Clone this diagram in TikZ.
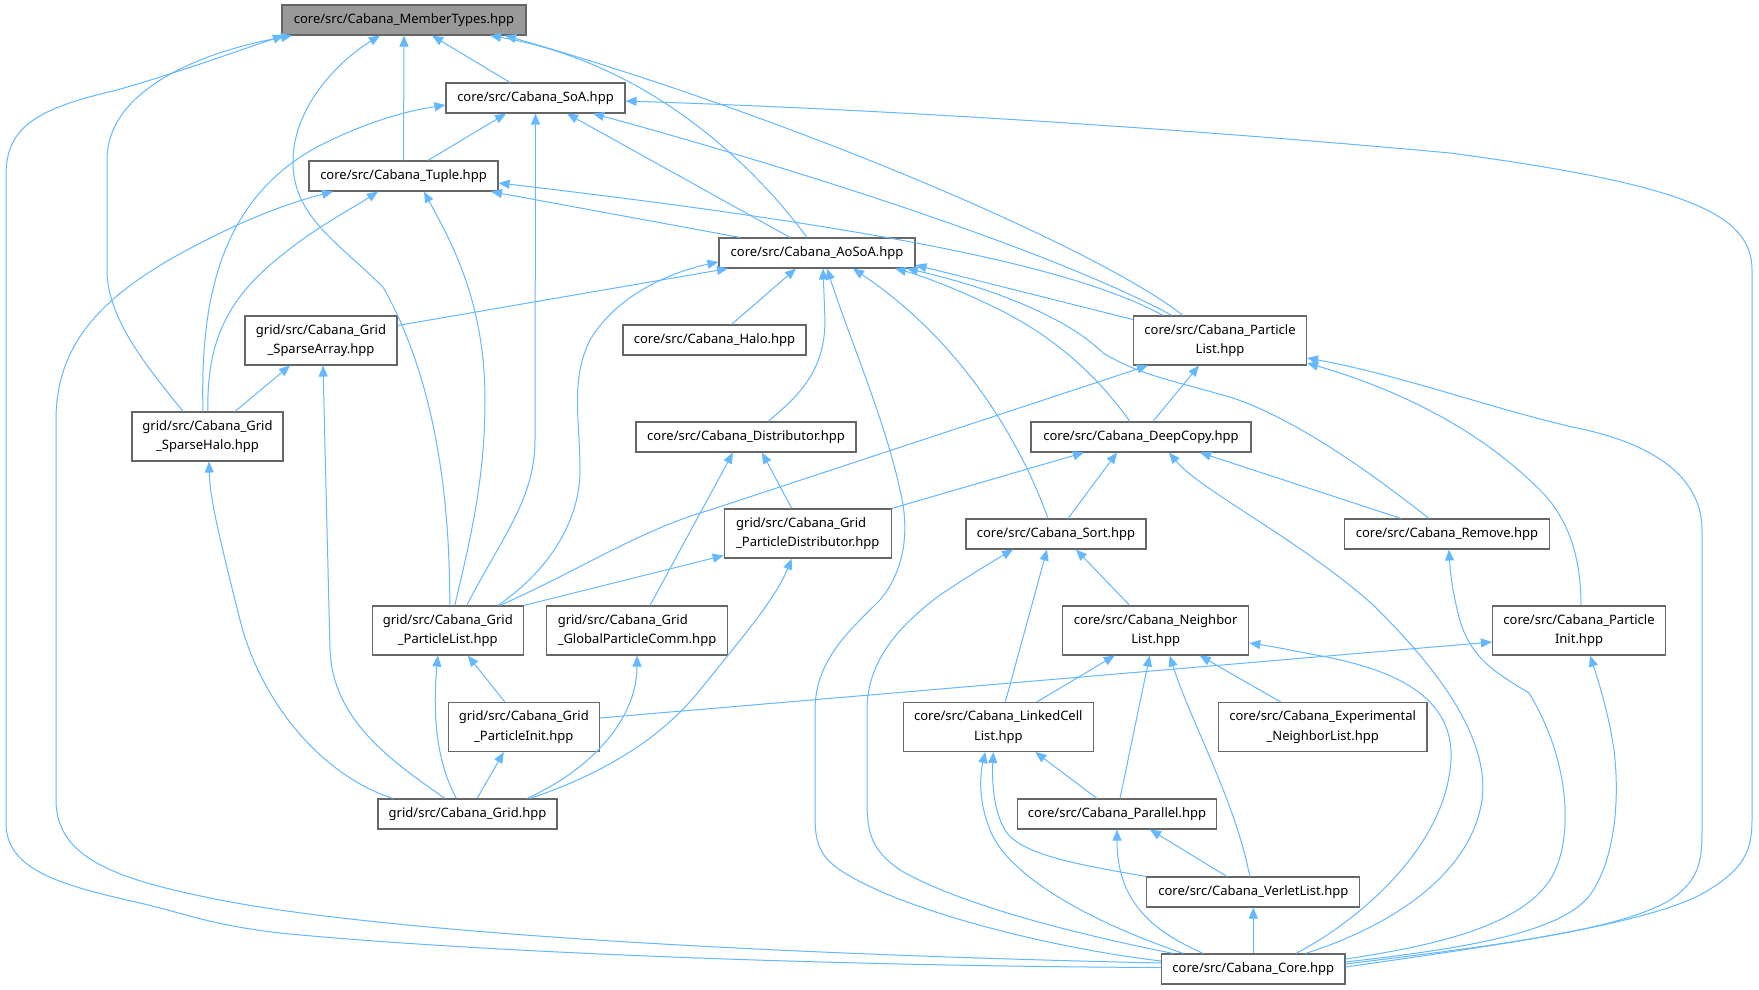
\documentclass[tikz,border=0pt]{standalone}
\usepackage{fontspec}
\setmainfont{Noto Sans}
\usetikzlibrary{arrows.meta}
\definecolor{edgeblue}{HTML}{63B8FF}
\definecolor{boxgray}{HTML}{666666}
\definecolor{rootgray}{HTML}{999999}
\tikzset{
	file/.style={draw=boxgray, line width=1.1pt, fill=white, inner sep=0pt, minimum height=30pt, align=center, font=\fontsize{13}{19.3}\selectfont},
	tall/.style={file, minimum height=49pt},
	rootfile/.style={file, fill=rootgray},
	dep/.style={draw=edgeblue, line width=1pt, -{Triangle[length=11pt,width=9pt]}}
}
\begin{document}
\begin{tikzpicture}[x=1pt,y=1pt]
	\fill[white] (0,0) rectangle (1759,-990);
	\useasboundingbox (0,0) rectangle (1759,-990);

	\node[rootfile, minimum width=244pt] (mt)     at (404,-20)      {core/src/Cabana\_MemberTypes.hpp};
	\node[file, minimum width=179pt]     (soa)    at (535.5,-98)    {core/src/Cabana\_SoA.hpp};
	\node[file, minimum width=189pt]     (tuple)  at (403.5,-176)   {core/src/Cabana\_Tuple.hpp};
	\node[file, minimum width=196pt]     (aosoa)  at (817,-253)     {core/src/Cabana\_AoSoA.hpp};
	\node[tall, minimum width=152pt]     (sparr)  at (321,-340.5)   {grid/src/Cabana\_Grid\\\_SparseArray.hpp};
	\node[file, minimum width=183pt]     (halo)   at (714.5,-340)   {core/src/Cabana\_Halo.hpp};
	\node[tall, minimum width=173pt]     (plist)  at (1220,-340.5)  {core/src/Cabana\_Particle\\List.hpp};
	\node[tall, minimum width=151pt]     (sphalo) at (207.5,-436.5) {grid/src/Cabana\_Grid\\\_SparseHalo.hpp};
	\node[file, minimum width=220pt]     (distr)  at (746,-437)     {core/src/Cabana\_Distributor.hpp};
	\node[file, minimum width=220pt]     (dcopy)  at (1141,-437)    {core/src/Cabana\_DeepCopy.hpp};
	\node[tall, minimum width=167pt, align=left] (gpdist) at (807.7,-533.5) {grid/src/Cabana\_Grid\\\_ParticleDistributor.hpp};
	\node[file, minimum width=180pt]     (sort)   at (1056,-534)    {core/src/Cabana\_Sort.hpp};
	\node[file, minimum width=205.5pt]   (remove) at (1447,-534)    {core/src/Cabana\_Remove.hpp};
	\node[tall, minimum width=151pt]     (gplist) at (447.8,-630.5) {grid/src/Cabana\_Grid\\\_ParticleList.hpp};
	\node[tall, minimum width=180.6pt, align=left] (gpcomm) at (637,-630.5) {grid/src/Cabana\_Grid\\\_GlobalParticleComm.hpp};
	\node[tall, minimum width=186pt]     (nlist)  at (1155.7,-630.5) {core/src/Cabana\_Neighbor\\List.hpp};
	\node[tall, minimum width=173pt]     (pinit)  at (1579,-630.5)  {core/src/Cabana\_Particle\\Init.hpp};
	\node[tall, minimum width=151pt]     (gpinit) at (523.8,-727)   {grid/src/Cabana\_Grid\\\_ParticleInit.hpp};
	\node[tall, minimum width=190pt]     (lcell)  at (998.3,-727)   {core/src/Cabana\_LinkedCell\\List.hpp};
	\node[tall, minimum width=208.6pt]   (exper)  at (1322.7,-727)  {core/src/Cabana\_Experimental\\\_NeighborList.hpp};
	\node[file, minimum width=179pt]     (grid)   at (467.5,-814)   {grid/src/Cabana\_Grid.hpp};
	\node[file, minimum width=198.5pt]   (par)    at (1117,-814)    {core/src/Cabana\_Parallel.hpp};
	\node[file, minimum width=213pt]     (verlet) at (1253.3,-892)  {core/src/Cabana\_VerletList.hpp};
	\node[file, minimum width=183.3pt]   (core)   at (1253.3,-969)  {core/src/Cabana\_Core.hpp};

	\path (tuple.north) edge[dep] (mt.south)
		([xshift=-25.5pt]soa.north) edge[dep] ([xshift=28pt]mt.south)
		([xshift=24.5pt]tuple.north) edge[dep] ([xshift=-29.5pt]soa.south)
		([xshift=-27pt]aosoa.north) edge[dep] ([xshift=31.5pt]soa.south)
		([xshift=-77pt]aosoa.north) edge[dep] ([xshift=87.5pt]tuple.south)
		([yshift=15pt]sparr.east) edge[dep] ([xshift=-89pt]aosoa.south)
		([xshift=17pt]halo.north) edge[dep] ([xshift=-21pt]aosoa.south)
		([yshift=21pt]plist.west) edge[dep] ([yshift=-12pt]aosoa.east)
		([xshift=27.5pt]sphalo.north) edge[dep] ([xshift=-31pt]sparr.south)
		([xshift=13pt]gpcomm.north) edge[dep] ([xshift=-13pt]distr.south)
		([xshift=-16pt]gpdist.north) edge[dep] ([xshift=16pt]distr.south)
		([xshift=12pt]dcopy.north) edge[dep] ([xshift=-21pt]plist.south)
		(gpdist.north east) edge[dep] ([xshift=-57pt]dcopy.south)
		([xshift=12pt]sort.north) edge[dep] ([xshift=-24pt]dcopy.south)
		([xshift=-46pt]remove.north) edge[dep] ([xshift=59pt]dcopy.south)
		(gplist.north east) edge[dep] ([yshift=-22pt]gpdist.west)
		([xshift=7pt]lcell.north) edge[dep] ([xshift=-9pt]sort.south)
		([xshift=-26pt]nlist.north) edge[dep] ([xshift=20pt]sort.south)
		([xshift=38.5pt]lcell.north) edge[dep] ([xshift=-41pt]nlist.south)
		([xshift=3pt]par.north) edge[dep] ([xshift=-6pt]nlist.south)
		([xshift=-42pt]exper.north) edge[dep] ([xshift=44pt]nlist.south)
		([yshift=9pt]gpinit.east) edge[dep] ([yshift=-11.5pt]pinit.west)
		([xshift=-19pt]gpinit.north) edge[dep] ([xshift=20pt]gplist.south)
		([xshift=9.5pt]grid.north) edge[dep] ([xshift=-20pt]gpinit.south)
		([xshift=-20pt]par.north) edge[dep] ([xshift=37pt]lcell.south)
		([xshift=-26.5pt]verlet.north) edge[dep] ([xshift=33pt]par.south)
		(core.north) edge[dep] (verlet.south);

	\draw[dep] ([yshift=1.5pt]core.west) .. controls (800,-966) and (450,-950) .. (280,-933) .. controls (210,-925) and (180,-912) .. (140,-903) .. controls (60,-885) and (6,-870) .. (6,-823) -- (6,-175) .. controls (6,-125) and (40,-108) .. (117,-90) .. controls (180,-72) and (240,-50) .. ([xshift=-120pt]mt.south);
	\draw[dep] ([xshift=-24.5pt]sphalo.north) .. controls (150,-370) and (107,-320) .. (107,-270) -- (107,-160) .. controls (107,-90) and (200,-52) .. ([xshift=-112pt]mt.south);
	\draw[dep] ([xshift=2pt]gplist.north) .. controls (450,-480) and (430,-370) .. (383,-287) .. controls (335,-240) and (292,-215) .. (293,-160) .. controls (294,-105) and (340,-60) .. ([xshift=-24pt]mt.south);
	\draw[dep] ([xshift=-10pt]aosoa.north) .. controls (765,-180) and (660,-65) .. ([xshift=86pt]mt.south);
	\draw[dep] ([xshift=-37pt]plist.north) .. controls (1100,-250) and (800,-120) .. ([xshift=101pt]mt.south);

	\draw[dep] ([xshift=-4.5pt]sphalo.north) .. controls (200,-300) and (220,-200) .. (317,-147) .. controls (360,-125) and (400,-112) .. ([yshift=-7pt]soa.west);
	\draw[dep] ([xshift=19pt]gplist.north) .. controls (500,-540) and (535,-500) .. (535,-440) -- (soa.south);
	\draw[dep] ([xshift=-48pt]plist.north) .. controls (1050,-250) and (800,-170) .. ([xshift=57.5pt]soa.south);
	\draw[dep] ([yshift=2pt]core.east) .. controls (1500,-945) and (1640,-925) .. (1700,-895) .. controls (1745,-870) and (1752,-850) .. (1752,-820) -- (1752,-270) .. controls (1752,-215) and (1690,-185) .. (1450,-153) .. controls (1200,-130) and (900,-110) .. ([yshift=-3pt]soa.east);

	\draw[dep] ([yshift=6pt]core.west) .. controls (800,-955) and (400,-935) .. (220,-900) .. controls (120,-880) and (56,-860) .. (56,-800) -- (56,-420) .. controls (56,-330) and (120,-280) .. (233,-227) .. controls (270,-210) and (300,-200) .. ([xshift=-70.5pt]tuple.south);
	\draw[dep] ([xshift=0.5pt]sphalo.north) .. controls (206,-340) and (230,-300) .. (270,-265) .. controls (310,-230) and (350,-210) .. ([xshift=-25.5pt]tuple.south);
	\draw[dep] ([xshift=7pt]gplist.north) .. controls (470,-540) and (485,-480) .. (485,-400) .. controls (485,-300) and (450,-240) .. ([xshift=20.5pt]tuple.south);
	\draw[dep] ([xshift=-57pt]plist.north) .. controls (1080,-270) and (900,-230) .. ([yshift=-7pt]tuple.east);

	\draw[dep] ([xshift=22pt]distr.north) .. controls (800,-395) and (825,-370) .. (825,-320) -- ([xshift=6pt]aosoa.south);
	\draw[dep] ([yshift=8pt]core.west) .. controls (1050,-948) and (900,-910) .. (840,-870) .. controls (818,-855) and (815,-840) .. (815,-815) -- (815,-710) .. controls (815,-660) and (850,-630) .. (880,-600) .. controls (905,-570) and (910,-530) .. (900,-490) .. controls (885,-420) and (850,-340) .. ([xshift=10pt]aosoa.south);
	\draw[dep] ([xshift=-8pt]sort.north) .. controls (1020,-440) and (960,-340) .. ([xshift=36pt]aosoa.south);
	\draw[dep] ([xshift=50pt]gplist.north) .. controls (550,-570) and (580,-520) .. (580,-470) .. controls (580,-420) and (570,-380) .. (590,-340) .. controls (620,-290) and (680,-270) .. ([yshift=-9pt]aosoa.west);
	\draw[dep] ([xshift=-11pt]dcopy.north) .. controls (1100,-380) and (1060,-340) .. (1000,-310) .. controls (960,-290) and (920,-275) .. ([xshift=78pt]aosoa.south);
	\draw[dep] ([xshift=-18pt]remove.north) .. controls (1380,-480) and (1300,-420) .. (1230,-397) .. controls (1170,-380) and (1140,-375) .. (1103,-353) .. controls (1070,-320) and (1000,-290) .. ([xshift=90pt]aosoa.south);

	\draw[dep] ([xshift=-22.5pt]grid.north) .. controls (390,-760) and (333,-720) .. (330,-650) -- ([xshift=2pt]sparr.south);
	\draw[dep] ([xshift=-74.5pt]grid.north) .. controls (320,-775) and (260,-700) .. (240,-620) .. controls (220,-540) and (210,-500) .. ([xshift=1.5pt]sphalo.south);

	\draw[dep] ([xshift=52pt]gplist.north) .. controls (580,-570) and (640,-530) .. (710,-510) -- ([xshift=-72pt]plist.south);
	\draw[dep] ([xshift=2pt]pinit.north) .. controls (1581,-560) and (1570,-520) .. (1540,-490) .. controls (1480,-430) and (1400,-390) .. ([yshift=-22.5pt]plist.east);
	\draw[dep] ([yshift=5pt]core.east) .. controls (1500,-945) and (1620,-930) .. (1670,-900) .. controls (1700,-880) and (1702,-860) .. (1702,-830) -- (1702,-530) .. controls (1702,-470) and (1640,-440) .. (1572,-427) .. controls (1480,-405) and (1400,-375) .. ([yshift=-17.5pt]plist.east);

	\draw[dep] ([xshift=52pt]core.north) .. controls (1380,-930) and (1470,-880) .. (1482,-800) .. controls (1490,-740) and (1440,-670) .. (1372,-604) .. controls (1300,-540) and (1200,-490) .. ([xshift=28pt]dcopy.south);
	\draw[dep] ([xshift=62.5pt]grid.north) .. controls (600,-775) and (660,-740) .. (700,-690) .. controls (740,-640) and (775,-600) .. ([xshift=-16pt]gpdist.south);
	\draw[dep] ([xshift=-80pt]core.north) .. controls (1080,-935) and (960,-905) .. (900,-870) .. controls (872,-850) and (867,-835) .. (867,-800) -- (867,-710) .. controls (867,-660) and (900,-625) .. (940,-595) .. controls (970,-575) and (995,-560) .. ([xshift=-43pt]sort.south);
	\draw[dep] ([yshift=10pt]core.east) .. controls (1440,-945) and (1520,-925) .. (1550,-880) .. controls (1575,-840) and (1570,-760) .. (1529,-693) .. controls (1500,-675) and (1470,-660) .. (1459,-617) .. controls (1452,-590) and (1450,-570) .. ([xshift=2pt]remove.south);

	\draw[dep] ([xshift=-3.5pt]verlet.north) .. controls (1235,-800) and (1190,-720) .. ([xshift=14pt]nlist.south);
	\draw[dep] ([xshift=42.5pt]core.north) .. controls (1360,-920) and (1440,-850) .. (1450,-770) .. controls (1460,-700) and (1400,-670) .. (1316,-655) .. controls (1290,-650) and (1270,-646) .. ([yshift=-12.5pt]nlist.east);
	\draw[dep] ([yshift=7pt]core.east) .. controls (1450,-950) and (1560,-935) .. (1590,-895) .. controls (1615,-860) and (1620,-800) .. (1614,-750) .. controls (1608,-710) and (1598,-680) .. ([xshift=11pt]pinit.south);

	\draw[dep] ([xshift=-11pt]grid.north) .. controls (438,-765) and (432,-720) .. ([xshift=-10pt]gplist.south);
	\draw[dep] ([xshift=59.5pt]grid.north) .. controls (590,-770) and (637,-720) .. (gpcomm.south);
	\draw[dep] ([xshift=-70pt]core.north) .. controls (1100,-925) and (1010,-880) .. (990,-830) .. controls (978,-800) and (980,-775) .. ([xshift=-13pt]lcell.south);
	\draw[dep] (verlet.north west) .. controls (1080,-865) and (1020,-855) .. (1005,-830) .. controls (993,-810) and (992,-780) .. ([xshift=-5pt]lcell.south);
	\draw[dep] ([xshift=-50pt]core.north) .. controls (1150,-930) and (1117,-900) .. (par.south);
\end{tikzpicture}
\end{document}
